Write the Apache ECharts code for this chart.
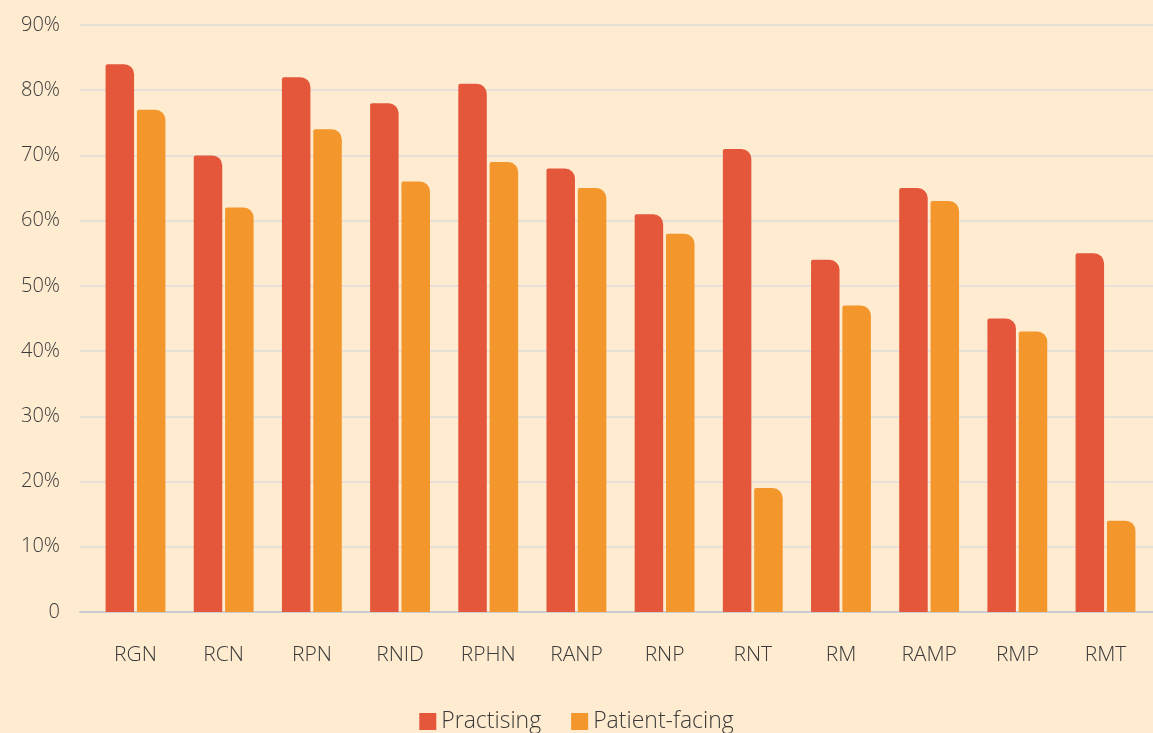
<!DOCTYPE html>
<html>
<head>
<meta charset="utf-8">
<script src="https://cdn.jsdelivr.net/npm/echarts@6/dist/echarts.min.js"></script>
<style>
  html, body { margin: 0; padding: 0; background: #FEEBD0; }
  #chart { width: 1153px; height: 733px; }
</style>
</head>
<body>
<div id="chart"></div>
<script>
// Share of registrants by register type
const categories = ['RGN', 'RCN', 'RPN', 'RNID', 'RPHN', 'RANP', 'RNP', 'RNT', 'RM', 'RAMP', 'RMP', 'RMT'];
const practising = [84, 70, 82, 78, 81, 68, 61, 71, 54, 65, 45, 55];
const patientFacing = [77, 62, 74, 66, 69, 65, 58, 19, 47, 63, 43, 14];
const yTicks = [0, 10, 20, 30, 40, 50, 60, 70, 80, 90];

const FONT = '"Open Sans", Lato, sans-serif';
const TEXT = '#3a3a3a';
const WEIGHT = 300;

const chart = echarts.init(document.getElementById('chart'), null, { renderer: 'canvas' });

chart.setOption({
  backgroundColor: '#FEEBD0',
  animation: false,
  textStyle: { fontFamily: FONT },
  legend: {
    data: ['Practising', 'Patient-facing'],
    top: 705,
    left: 'center',
    icon: 'rect',
    itemWidth: 17,
    itemHeight: 17,
    itemGap: 30,
    textStyle: { fontSize: 23, color: TEXT, fontFamily: FONT, fontWeight: WEIGHT }
  },
  grid: [
    // full-width frame for the percentage axis and gridlines
    { left: 80, right: 0, top: 25, bottom: 121 },
    // plotting area for the bars
    { left: 91.4, right: 3.4, top: 25, bottom: 121 }
  ],
  xAxis: [
    {
      gridIndex: 0, type: 'value', min: 0, max: 1,
      axisLabel: { show: false }, axisTick: { show: false }, splitLine: { show: false },
      axisLine: { show: true, lineStyle: { color: '#C9CDD3', width: 2 } }
    },
    {
      gridIndex: 1, type: 'category', data: categories,
      axisLine: { show: false }, axisTick: { show: false },
      axisLabel: { color: TEXT, fontSize: 21, margin: 33, fontFamily: FONT, fontWeight: WEIGHT }
    }
  ],
  yAxis: [
    {
      gridIndex: 0, type: 'value', min: yTicks[0], max: yTicks[yTicks.length - 1], interval: 10,
      axisLine: { show: false }, axisTick: { show: false },
      axisLabel: {
        color: TEXT, fontSize: 20, margin: 20, fontFamily: FONT, fontWeight: WEIGHT,
        formatter: v => (v === 0 ? '0' : v + '%')
      },
      splitLine: { show: true, lineStyle: { color: '#E6E0D6', width: 2 } }
    },
    {
      gridIndex: 1, type: 'value', min: yTicks[0], max: yTicks[yTicks.length - 1], interval: 10,
      show: false
    }
  ],
  series: [
    {
      name: 'Practising', type: 'bar', xAxisIndex: 1, yAxisIndex: 1,
      data: practising, barWidth: 28.5, barGap: '10%',
      itemStyle: { color: '#E5573A', borderRadius: [2, 10, 0, 0] }
    },
    {
      name: 'Patient-facing', type: 'bar', xAxisIndex: 1, yAxisIndex: 1,
      data: patientFacing, barWidth: 28.5, barGap: '10%',
      itemStyle: { color: '#F3962B', borderRadius: [2, 10, 0, 0] }
    }
  ]
});
</script>
</body>
</html>
